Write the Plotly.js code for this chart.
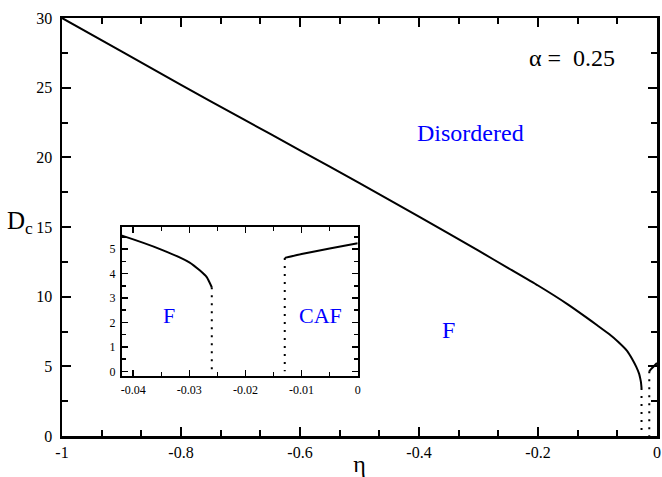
<!DOCTYPE html>
<html>
<head>
<meta charset="utf-8">
<script src="https://cdn.plot.ly/plotly-3.0.1.min.js"></script>
<style>html,body{margin:0;padding:0;background:#fff;}#chart{width:662px;height:477px;}</style>
</head>
<body>
<div id="chart"></div>
<script>
// F / Disordered boundary (solid)
const etaF = [-1, -0.9, -0.8, -0.7, -0.6, -0.5, -0.4, -0.3, -0.25, -0.2, -0.15, -0.12, -0.1, -0.08, -0.065, -0.05, -0.042, -0.035, -0.03, -0.0281, -0.0269, -0.026];
const dcF  = [30, 27.6, 25.2, 22.85, 20.5, 18.15, 15.75, 13.3, 12.05, 10.8, 9.45, 8.55, 7.93, 7.3, 6.75, 6.1, 5.55, 4.98, 4.46, 4.12, 3.85, 3.44];
// CAF / Disordered boundary (solid)
const etaCAF = [-0.013, -0.01, -0.005, 0];
const dcCAF  = [4.64, 4.8, 5.02, 5.24];
// F / CAF boundaries (dotted)
const etaDot1 = [-0.026, -0.026];
const dcDot1  = [3.44, 0];
const etaDot2 = [-0.013, -0.013];
const dcDot2  = [4.64, 0];

const mainXTicks = [-1, -0.8, -0.6, -0.4, -0.2, 0];
const mainXText  = ["-1", "-0.8", "-0.6", "-0.4", "-0.2", "0"];
const mainYTicks = [0, 5, 10, 15, 20, 25, 30];
const insetXTicks = [-0.04, -0.03, -0.02, -0.01, 0];
const insetXText  = ["-0.04", "-0.03", "-0.02", "-0.01", "0"];
const insetYTicks = [0, 1, 2, 3, 4, 5];

const FONT = "Liberation Serif";
const smooth = {color: "#000", width: 2, shape: "spline", smoothing: 0.5};
const dotted = {color: "#000", width: 2, dash: "2px,6px"};

const traces = [];
[["x", "y"], ["x2", "y2"]].forEach(([xa, ya]) => {
  traces.push({x: etaF, y: dcF, xaxis: xa, yaxis: ya, mode: "lines", line: smooth, showlegend: false, hoverinfo: "skip"});
  traces.push({x: etaCAF, y: dcCAF, xaxis: xa, yaxis: ya, mode: "lines", line: smooth, showlegend: false, hoverinfo: "skip"});
  traces.push({x: etaDot1, y: dcDot1, xaxis: xa, yaxis: ya, mode: "lines", line: dotted, showlegend: false, hoverinfo: "skip"});
  traces.push({x: etaDot2, y: dcDot2, xaxis: xa, yaxis: ya, mode: "lines", line: dotted, showlegend: false, hoverinfo: "skip"});
});

const axBase = {
  showgrid: false, zeroline: false, showline: true, linecolor: "#000",
  mirror: "allticks", ticks: "inside", tickcolor: "#000"
};

const layout = {
  width: 662, height: 477,
  margin: {l: 62, r: 5, t: 18, b: 41, pad: 0},
  paper_bgcolor: "#fff", plot_bgcolor: "#fff",
  xaxis: Object.assign({}, axBase, {
    domain: [0, 1], range: [-1, 0], anchor: "y",
    tickmode: "array", tickvals: mainXTicks, ticktext: mainXText,
    linewidth: 2.5, ticklen: 9, tickwidth: 2,
    tickfont: {family: FONT, size: 16, color: "#000"},
    ticklabelstandoff: 0,
    minor: {tickmode: "linear", tick0: -1, dtick: 0.2 / 3, ticks: "inside", ticklen: 6, tickwidth: 2, tickcolor: "#000"},
    title: {text: "η", font: {family: FONT, size: 24, color: "#000"}, standoff: 8}
  }),
  yaxis: Object.assign({}, axBase, {
    domain: [0, 1], range: [0, 30], anchor: "x",
    tickmode: "array", tickvals: mainYTicks,
    linewidth: 2.5, ticklen: 9, tickwidth: 2,
    tickfont: {family: FONT, size: 16, color: "#000"},
    ticklabelstandoff: 4,
    minor: {tickmode: "linear", tick0: 0, dtick: 2.5, ticks: "inside", ticklen: 6, tickwidth: 2, tickcolor: "#000"}
  }),
  xaxis2: Object.assign({}, axBase, {
    domain: [0.1008, 0.497], range: [-0.042, 0], anchor: "y2",
    tickmode: "array", tickvals: insetXTicks, ticktext: insetXText,
    linewidth: 2, ticklen: 6, tickwidth: 1.5,
    tickfont: {family: FONT, size: 12, color: "#000"},
    ticklabelstandoff: 2,
    minor: {tickmode: "linear", tick0: 0, dtick: 0.005, ticks: "inside", ticklen: 4, tickwidth: 1.5, tickcolor: "#000"}
  }),
  yaxis2: Object.assign({}, axBase, {
    domain: [0.1447, 0.501], range: [-0.17, 5.92], anchor: "x2",
    tickmode: "array", tickvals: insetYTicks,
    linewidth: 2, ticklen: 6, tickwidth: 1.5,
    tickfont: {family: FONT, size: 12, color: "#000"},
    ticklabelstandoff: 2,
    minor: {tickmode: "linear", tick0: 0, dtick: 0.5, ticks: "inside", ticklen: 4, tickwidth: 1.5, tickcolor: "#000"}
  }),
  annotations: [
    {text: "D<sub>c</sub>", xref: "paper", yref: "paper", x: -0.071, y: 0.51, xanchor: "center", yanchor: "middle", showarrow: false, font: {family: FONT, size: 25, color: "#000"}},
    {text: "α =  0.25", xref: "paper", yref: "paper", x: 0.857, y: 0.905, xanchor: "center", yanchor: "middle", showarrow: false, font: {family: FONT, size: 24, color: "#000"}},
    {text: "Disordered", xref: "paper", yref: "paper", x: 0.686, y: 0.724, xanchor: "center", yanchor: "middle", showarrow: false, font: {family: FONT, size: 24, color: "#0000ff"}},
    {text: "F", xref: "paper", yref: "paper", x: 0.650, y: 0.254, xanchor: "center", yanchor: "middle", showarrow: false, font: {family: FONT, size: 24, color: "#0000ff"}},
    {text: "F", xref: "paper", yref: "paper", x: 0.179, y: 0.289, xanchor: "center", yanchor: "middle", showarrow: false, font: {family: FONT, size: 22, color: "#0000ff"}},
    {text: "CAF", xref: "paper", yref: "paper", x: 0.434, y: 0.289, xanchor: "center", yanchor: "middle", showarrow: false, font: {family: FONT, size: 22, color: "#0000ff"}}
  ]
};

Plotly.newPlot("chart", traces, layout, {staticPlot: true, displayModeBar: false});
</script>
</body>
</html>
